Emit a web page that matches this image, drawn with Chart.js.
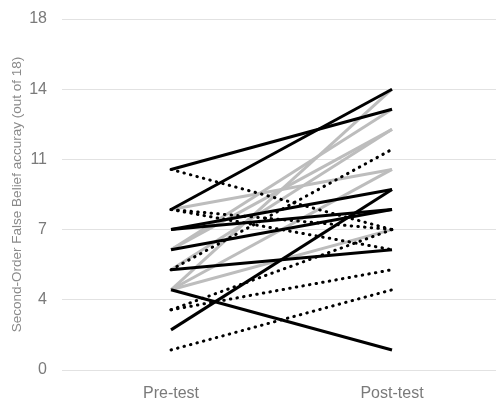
<!DOCTYPE html>
<html>
<head>
  <meta charset="UTF-8">
  <title>Second-Order False Belief</title>
  <script src="https://cdn.jsdelivr.net/npm/chart.js@4/dist/chart.umd.min.js"></script>
  <style>
    html, body { margin: 0; padding: 0; background: #fff; }
    #wrap { width: 496px; height: 402px; }
  </style>
</head>
<body>
<div id="wrap"><canvas id="chart"></canvas></div>

<script>
  // test sessions (x positions 0 and 1)
  var categories = ['Pre-test', 'Post-test'];
  var yTicks = [0, 3.5, 7, 10.5, 14, 17.5];

  // solid black lines
  var blackPre  = [10, 8, 7, 7, 6, 5, 4, 2];
  var blackPost = [13, 14, 9, 8, 8, 6, 1, 9];

  // solid grey lines
  var greyPre  = [8, 6, 6, 5, 4, 4, 4];
  var greyPost = [10, 13, 12, 12, 14, 10, 7];

  // dotted black lines
  var dotPre  = [10, 8, 8, 5, 3, 3, 1];
  var dotPost = [7, 7, 6, 11, 7, 5, 4];

  function makeSets(pre, post, style) {
    return pre.map(function (v, i) {
      return Object.assign({
        data: [{ x: 0, y: v }, { x: 1, y: post[i] }],
        pointRadius: 0,
        fill: false,
        tension: 0
      }, style);
    });
  }

  var datasets = []
    .concat(makeSets(blackPre, blackPost, { borderColor: '#000', borderWidth: 3, order: 0 }))
    .concat(makeSets(dotPre, dotPost, {
      borderColor: '#000', borderWidth: 3, borderDash: [0.5, 6.2],
      borderCapStyle: 'round', order: 1
    }))
    .concat(makeSets(greyPre, greyPost, { borderColor: '#bdbdbd', borderWidth: 3, order: 2 }));

  var ctx = document.getElementById('chart').getContext('2d');
  new Chart(ctx, {
    type: 'line',
    data: { datasets: datasets },
    options: {
      responsive: true,
      maintainAspectRatio: false,
      animation: false,
      layout: { padding: { left: 5, top: 19, right: 0, bottom: 0 } },
      plugins: { legend: { display: false }, tooltip: { enabled: false } },
      scales: {
        x: {
          type: 'linear',
          min: -0.4933,
          max: 1.4705,
          grid: { display: false },
          border: { display: false },
          afterBuildTicks: function (axis) {
            axis.ticks = categories.map(function (c, i) { return { value: i }; });
          },
          afterFit: function (axis) { axis.height = 32; },
          ticks: {
            color: '#7a7a7a',
            font: { family: 'Liberation Sans', size: 16 },
            padding: 6,
            maxRotation: 0,
            callback: function (v) { return categories[v]; }
          }
        },
        y: {
          min: 0,
          max: 17.5,
          afterBuildTicks: function (axis) {
            axis.ticks = yTicks.map(function (v) { return { value: v }; });
          },
          afterFit: function (axis) {
            axis.width = 57;
            axis.paddingTop = 0;
            axis.paddingBottom = 0;
          },
          grid: { color: '#e2e2e2', lineWidth: 1, drawTicks: false },
          border: { display: false },
          ticks: {
            color: '#7a7a7a',
            font: { family: 'Liberation Sans', size: 16 },
            padding: 15,
            callback: function (v) { return Math.round(v); }
          },
          title: {
            display: true,
            text: 'Second-Order False Belief accuray (out of 18)',
            color: '#8a8a8a',
            font: { family: 'Liberation Sans', size: 13.5 },
            padding: 4
          }
        }
      }
    }
  });
</script>
</body>
</html>
